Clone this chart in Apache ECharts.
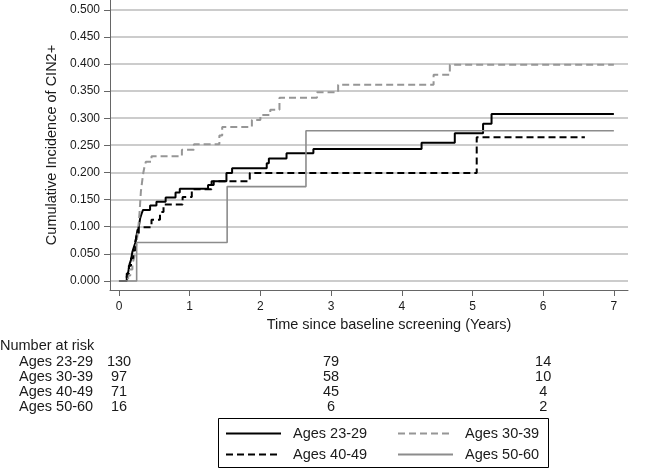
<!DOCTYPE html>
<html><head><meta charset="utf-8">
<script src="https://cdn.jsdelivr.net/npm/echarts@6/dist/echarts.min.js"></script>
<style>html,body{margin:0;padding:0;background:#fff}#main{width:659px;height:470px}</style>
</head><body><div id="main"></div>
<script>
// ---- data ----
const xTicks = [0, 1, 2, 3, 4, 5, 6, 7];
const yTicks = [0, 0.05, 0.10, 0.15, 0.20, 0.25, 0.30, 0.35, 0.40, 0.45, 0.50];
const seriesNames = ['Ages 23-29', 'Ages 30-39', 'Ages 40-49', 'Ages 50-60'];

const t2329 = [0, 0.11, 0.13, 0.15, 0.17, 0.19, 0.21, 0.23, 0.25, 0.26, 0.28, 0.30, 0.32, 0.34, 0.44, 0.53, 0.66, 0.80, 0.86, 1.26, 1.34, 1.52, 1.60, 2.09, 2.12, 2.37, 2.75, 4.28, 4.75, 5.15, 5.27, 7.0];
const v2329 = [0, 0.008, 0.016, 0.031, 0.039, 0.054, 0.062, 0.070, 0.085, 0.093, 0.100, 0.116, 0.124, 0.131, 0.139, 0.146, 0.154, 0.163, 0.170, 0.177, 0.184, 0.199, 0.208, 0.217, 0.226, 0.2355, 0.2435, 0.255, 0.2725, 0.290, 0.308, 0.308];

const t3039 = [0, 0.13, 0.16, 0.19, 0.21, 0.23, 0.25, 0.27, 0.29, 0.30, 0.31, 0.33, 0.345, 0.36, 0.38, 0.46, 0.89, 1.06, 1.42, 1.46, 1.88, 2.00, 2.14, 2.27, 2.80, 3.10, 4.45, 4.68, 7.0];
const v3039 = [0, 0.010, 0.021, 0.031, 0.041, 0.052, 0.072, 0.093, 0.124, 0.145, 0.165, 0.186, 0.200, 0.210, 0.220, 0.230, 0.242, 0.252, 0.268, 0.284, 0.297, 0.306, 0.3155, 0.338, 0.348, 0.3616, 0.380, 0.3985, 0.3985];

const t4049 = [0, 0.11, 0.14, 0.17, 0.20, 0.23, 0.25, 0.28, 0.46, 0.58, 0.63, 0.90, 1.03, 1.31, 1.85, 5.06, 6.59];
const v4049 = [0, 0.014, 0.028, 0.042, 0.056, 0.070, 0.085, 0.099, 0.113, 0.127, 0.141, 0.155, 0.169, 0.184, 0.199, 0.265, 0.265];

const t5060 = [0, 0.25, 1.53, 2.645, 7.0];
const v5060 = [0, 0.071, 0.174, 0.277, 0.277];

const riskTimes = [0, 3, 6];
const risk2329 = [130, 79, 14];
const risk3039 = [97, 58, 10];
const risk4049 = [71, 45, 4];
const risk5060 = [16, 6, 2];

// ---- styling ----
const FONT = '"Liberation Sans", Arial, sans-serif';
const TXT = '#1a1a1a';
const AX = '#666';
const X_MIN = -0.127, X_MAX = 7.2, Y_MIN = -0.0166, Y_MAX = 0.518;
const styles = [
  { color: '#000000', type: 'solid', width: 2 },
  { color: '#969696', type: [7, 4], width: 2 },
  { color: '#000000', type: [7, 4], width: 2 },
  { color: '#8c8c8c', type: 'solid', width: 1.6 }
];
const times = [t2329, t3039, t4049, t5060];
const vals = [v2329, v3039, v4049, v5060];
const risks = [risk2329, risk3039, risk4049, risk5060];

const chart = echarts.init(document.getElementById('main'));

const legendLeft = [225, 397, 225, 397];
const legendTop = [426, 426, 447, 447];

const curveSeries = seriesNames.map((n, i) => ({
  type: 'line', name: n, step: 'end', symbol: 'none', showSymbol: false, z: 3 + i,
  data: times[i].map((t, k) => [t, vals[i][k]]),
  lineStyle: { color: styles[i].color, width: styles[i].width, type: styles[i].type },
  itemStyle: { color: styles[i].color },
  emphasis: { disabled: true }
}));

const option = {
  animation: false,
  grid: { left: 110, right: 31, top: 0, bottom: 180, containLabel: false },
  xAxis: {
    type: 'value', min: X_MIN, max: X_MAX,
    axisLine: { show: true, onZero: false, lineStyle: { color: AX, width: 1 } },
    axisTick: { show: true, customValues: xTicks, length: 6, lineStyle: { color: AX } },
    axisLabel: { customValues: xTicks, margin: 11, fontSize: 12, fontFamily: FONT, color: TXT, formatter: v => String(v) },
    splitLine: { show: false },
    name: 'Time since baseline screening (Years)', nameLocation: 'middle', nameGap: 26,
    nameTextStyle: { fontSize: 14.5, fontFamily: FONT, color: TXT, padding: [0, 0, 0, 40] }
  },
  yAxis: {
    type: 'value', min: Y_MIN, max: Y_MAX,
    axisLine: { show: true, onZero: false, lineStyle: { color: AX, width: 1 } },
    axisTick: { show: true, customValues: yTicks, length: 6, lineStyle: { color: AX } },
    axisLabel: { customValues: yTicks, margin: 10, fontSize: 12, fontFamily: FONT, color: TXT, formatter: v => v.toFixed(3) },
    splitLine: { show: false },
    name: 'Cumulative Incidence of CIN2+', nameLocation: 'middle', nameGap: 46,
    nameTextStyle: { fontSize: 14.5, fontFamily: FONT, color: TXT }
  },
  legend: seriesNames.map((n, i) => ({
    data: [n], left: legendLeft[i], top: legendTop[i], padding: 0,
    itemWidth: 55, itemHeight: 14, selectedMode: false,
    itemStyle: { opacity: 0 },
    textStyle: { fontSize: 14.5, fontFamily: FONT, color: TXT, padding: [0, 0, 0, 7] }
  })),
  series: curveSeries
};
chart.setOption(option);

// ---- grid lines, number-at-risk table, legend frame (positions from the axis scales) ----
const g = [];
const leftPx = chart.convertToPixel({ xAxisIndex: 0 }, X_MIN);
const rightPx = chart.convertToPixel({ xAxisIndex: 0 }, X_MAX);
yTicks.forEach(v => {
  const py = Math.round(chart.convertToPixel({ yAxisIndex: 0 }, v));
  g.push({ type: 'line', silent: true, z: 1, shape: { x1: leftPx + 1, y1: py, x2: rightPx, y2: py }, style: { stroke: '#cccccc', lineWidth: 2 } });
});
const rowsY = [362, 377, 392, 407];
const txt = (text, x, y, align) => ({
  type: 'text', silent: true,
  style: { text: text, x: x, y: y, align: align, verticalAlign: 'middle', fill: TXT, fontSize: 14.5, fontFamily: FONT }
});
g.push(txt('Number at risk', 0, 346, 'left'));
seriesNames.forEach((n, i) => {
  g.push(txt(n, 19, rowsY[i], 'left'));
  riskTimes.forEach((t, j) => {
    const px = chart.convertToPixel({ xAxisIndex: 0 }, t);
    g.push(txt(String(risks[i][j]), px, rowsY[i], 'center'));
  });
});
g.push({ type: 'rect', silent: true, shape: { x: 218.5, y: 418.5, width: 330, height: 49 }, style: { fill: 'none', stroke: '#000', lineWidth: 1 } });
chart.setOption({ graphic: g });
</script></body></html>
